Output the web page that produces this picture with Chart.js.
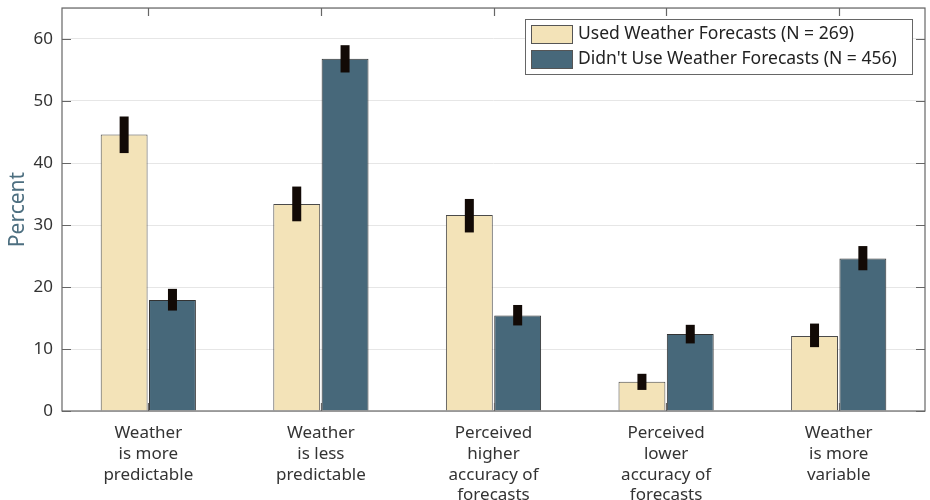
<!DOCTYPE html>
<html>
<head>
<meta charset="utf-8">
<script src="https://cdn.jsdelivr.net/npm/chart.js"></script>
<style>
  html, body { margin: 0; padding: 0; background: #fff; }
  #wrap { width: 930px; height: 500px; position: relative; }
</style>
</head>
<body>
<div id="wrap"><canvas id="chart" width="930" height="500"></canvas></div>
<script>
const categories = [
    ['Weather', 'is more', 'predictable'],
    ['Weather', 'is less', 'predictable'],
    ['Perceived', 'higher', 'accuracy of', 'forecasts'],
    ['Perceived', 'lower', 'accuracy of', 'forecasts'],
    ['Weather', 'is more', 'variable']
];
const seriesNames = ['Used Weather Forecasts (N = 269)', "Didn't Use Weather Forecasts (N = 456)"];
const usedValues = [44.6, 33.4, 31.6, 4.7, 12.1];
const usedLow = [41.6, 30.6, 28.8, 3.4, 10.3];
const usedHigh = [47.5, 36.2, 34.2, 6.0, 14.1];
const notUsedValues = [17.9, 56.8, 15.4, 12.4, 24.6];
const notUsedLow = [16.2, 54.6, 13.8, 10.9, 22.7];
const notUsedHigh = [19.7, 59.0, 17.1, 13.9, 26.6];
const yTicks = [0, 10, 20, 30, 40, 50, 60];

const FONT = '"Noto Sans", "Open Sans", sans-serif';
const TXT = '#333333';

// error bars, frame, inward ticks, y title, legend
const extras = {
    id: 'extras',
    afterDatasetsDraw(chart) {
        const ctx = chart.ctx;
        const y = chart.scales.y;
        const errs = [[usedLow, usedHigh], [notUsedLow, notUsedHigh]];
        ctx.save();
        ctx.fillStyle = '#120a06';
        errs.forEach((e, di) => {
            chart.getDatasetMeta(di).data.forEach((bar, i) => {
                const top = y.getPixelForValue(e[1][i]);
                const bot = y.getPixelForValue(e[0][i]);
                ctx.fillRect(bar.x - 4.5, top, 9, bot - top);
            });
        });
        ctx.restore();
    },
    afterDraw(chart) {
        const ctx = chart.ctx;
        const a = chart.chartArea;
        const x = chart.scales.x, y = chart.scales.y;
        ctx.save();
        ctx.strokeStyle = '#666';
        ctx.lineWidth = 1.2;
        ctx.strokeRect(a.left, a.top, a.right - a.left, a.bottom - a.top);
        ctx.beginPath();
        yTicks.forEach(v => {
            const py = Math.round(y.getPixelForValue(v)) + 0.5;
            ctx.moveTo(a.left, py); ctx.lineTo(a.left + 9, py);
            ctx.moveTo(a.right, py); ctx.lineTo(a.right - 9, py);
        });
        categories.forEach((c, i) => {
            const px = Math.round(x.getPixelForValue(i)) + 0.5;
            ctx.moveTo(px, a.top); ctx.lineTo(px, a.top + 8);
            ctx.moveTo(px, a.bottom); ctx.lineTo(px, a.bottom - 8);
        });
        ctx.stroke();

        // y title
        ctx.translate(18, (a.top + a.bottom) / 2);
        ctx.rotate(-Math.PI / 2);
        ctx.fillStyle = '#4d6f80';
        ctx.font = '21px ' + FONT;
        ctx.textAlign = 'center';
        ctx.textBaseline = 'middle';
        ctx.fillText('Percent', 0, 0);
        ctx.restore();

        // legend inside top-right
        ctx.save();
        const lx = 525, ly = 19, lw = 387, lh = 55;
        ctx.fillStyle = '#fff';
        ctx.fillRect(lx, ly, lw, lh);
        ctx.strokeStyle = '#666';
        ctx.lineWidth = 1;
        ctx.strokeRect(lx + 0.5, ly + 0.5, lw, lh);
        ctx.font = '17.5px ' + FONT;
        ctx.textBaseline = 'middle';
        chart.data.datasets.forEach((ds, i) => {
            const cy = ly + 15 + i * 25;
            ctx.fillStyle = ds.backgroundColor;
            ctx.fillRect(lx + 6, cy - 9, 41, 18);
            ctx.strokeStyle = '#555';
            ctx.strokeRect(lx + 6.5, cy - 8.5, 41, 18);
            ctx.fillStyle = '#222';
            ctx.fillText(ds.label, lx + 53, cy);
        });
        ctx.restore();
    }
};

new Chart(document.getElementById('chart'), {
    type: 'bar',
    data: {
        labels: categories,
        datasets: [
            { label: seriesNames[0], data: usedValues, backgroundColor: '#f3e3b8', borderColor: '#4a4a4a', borderWidth: 1 },
            { label: seriesNames[1], data: notUsedValues, backgroundColor: '#47687a', borderColor: '#333333', borderWidth: 1 }
        ]
    },
    options: {
        responsive: false,
        animation: false,
        layout: { padding: { top: 8, right: 5, left: 0, bottom: 0 } },
        datasets: { bar: { barPercentage: 0.97, categoryPercentage: 0.56 } },
        plugins: { legend: { display: false }, tooltip: { enabled: false } },
        scales: {
            x: {
                grid: { display: false },
                border: { display: false },
                ticks: { color: TXT, font: { family: FONT, size: 17, lineHeight: 1.22 }, padding: 4, maxRotation: 0 },
                afterFit(s) { s.height = 89; s.paddingLeft = 0; s.paddingRight = 0; }
            },
            y: {
                min: 0, max: 65,
                grid: { color: '#e6e6e6', drawTicks: false },
                border: { display: false },
                ticks: {
                    stepSize: 10, color: TXT, padding: 9,
                    font: { family: FONT, size: 17 },
                    callback: v => yTicks.includes(v) ? v : ''
                },
                afterFit(s) { s.width = 62; s.paddingTop = 0; s.paddingBottom = 0; }
            }
        }
    },
    plugins: [extras]
});
</script>
</body>
</html>
